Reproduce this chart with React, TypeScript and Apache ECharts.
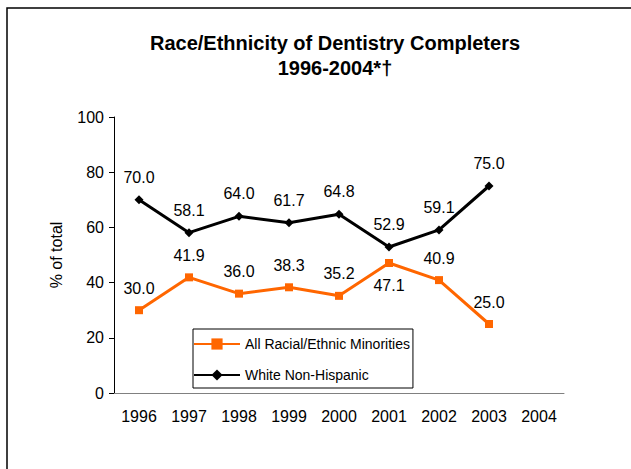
import React, { useEffect, useRef } from "react";
import * as echarts from "echarts";

const years = ["1996", "1997", "1998", "1999", "2000", "2001", "2002", "2003", "2004"];
const minorities = [30.0, 41.9, 36.0, 38.3, 35.2, 47.1, 40.9, 25.0, null];
const white = [70.0, 58.1, 64.0, 61.7, 64.8, 52.9, 59.1, 75.0, null];
const minorityLabelBelow = [false, false, false, false, false, true, false, false, false];

const FONT = "'Liberation Sans', Arial, sans-serif";

export default function App() {
  const ref = useRef<HTMLDivElement>(null);
  useEffect(() => {
    if (!ref.current) return;
    const chart = echarts.init(ref.current, null, { renderer: "svg" });
    chart.setOption({
      animation: false,
      backgroundColor: "#ffffff",
      textStyle: { fontFamily: FONT },
      title: {
        text: "Race/Ethnicity of Dentistry Completers\n1996-2004*†",
        left: 330,
        top: 25,
        textAlign: "center",
        textStyle: { fontFamily: FONT, fontSize: 20, fontWeight: "bold", color: "#000", lineHeight: 25 },
      },
      graphic: [
        {
          type: "rect",
          shape: { x: 7, y: 8, width: 700, height: 600 },
          style: { fill: "none", stroke: "#000", lineWidth: 1.5 },
          silent: true,
        },
      ],
      legend: {
        orient: "vertical",
        left: 193,
        top: 329,
        padding: [8, 3, 6, 0],
        itemGap: 17,
        itemWidth: 46,
        itemHeight: 14,
        borderColor: "#000",
        borderWidth: 1,
        backgroundColor: "#fff",
        textStyle: { fontFamily: FONT, fontSize: 14, color: "#000" },
        data: ["All Racial/Ethnic Minorities", "White Non-Hispanic"],
      },
      grid: { left: 114, right: 67, top: 117, bottom: 76, containLabel: false },
      xAxis: {
        type: "category",
        data: years,
        boundaryGap: true,
        axisLine: { lineStyle: { color: "#808080", width: 1 } },
        axisTick: { show: false },
        axisLabel: { color: "#000", fontSize: 16, fontFamily: FONT, margin: 15 },
      },
      yAxis: {
        type: "value",
        min: 0,
        max: 100,
        interval: 20,
        name: "% of total",
        nameLocation: "middle",
        nameGap: 50,
        nameTextStyle: { fontFamily: FONT, fontSize: 16, color: "#000" },
        axisLine: { show: true, lineStyle: { color: "#000", width: 1 } },
        axisTick: { show: true, length: 5, lineStyle: { color: "#000" } },
        splitLine: { show: false },
        axisLabel: { color: "#000", fontSize: 16, fontFamily: FONT, margin: 10 },
      },
      series: [
        {
          name: "All Racial/Ethnic Minorities",
          type: "line",
          data: minorities.map((v, i) => ({
            value: v,
            label: { position: minorityLabelBelow[i] ? "bottom" : "top" },
          })),
          symbol: "rect",
          symbolSize: 8,
          color: "#FF6600",
          lineStyle: { color: "#FF6600", width: 3 },
          itemStyle: { color: "#FF6600" },
          label: {
            show: true,
            distance: 10,
            fontSize: 16,
            fontFamily: FONT,
            color: "#000",
            formatter: (p: any) => (p.value == null ? "" : Number(p.value).toFixed(1)),
          },
        },
        {
          name: "White Non-Hispanic",
          type: "line",
          data: white,
          symbol: "diamond",
          symbolSize: 9,
          color: "#000",
          lineStyle: { color: "#000", width: 3 },
          itemStyle: { color: "#000" },
          label: {
            show: true,
            position: "top",
            distance: 10,
            fontSize: 16,
            fontFamily: FONT,
            color: "#000",
            formatter: (p: any) => (p.value == null ? "" : Number(p.value).toFixed(1)),
          },
        },
      ],
    });
    return () => chart.dispose();
  }, []);
  return (
    <div
      ref={ref}
      style={{ position: "absolute", left: 0, top: 0, width: 631, height: 469 }}
    />
  );
}
